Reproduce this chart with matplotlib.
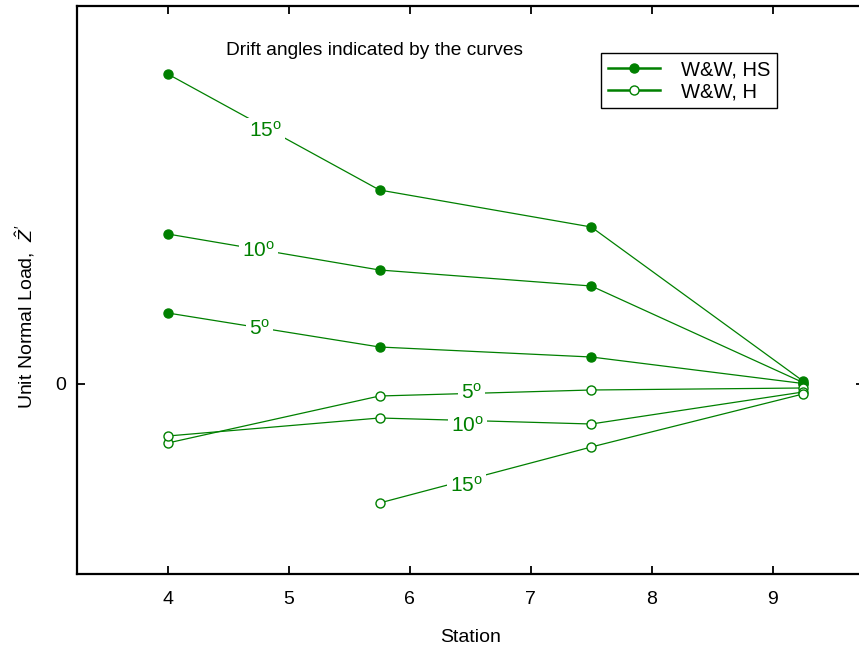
import numpy as np
import matplotlib
matplotlib.use("Agg")
import matplotlib.pyplot as plt

plt.rcParams['font.family'] = ['Liberation Sans', 'DejaVu Sans']
plt.rcParams['mathtext.fontset'] = 'custom'
plt.rcParams['mathtext.rm'] = 'Liberation Sans'
plt.rcParams['mathtext.it'] = 'Liberation Sans:italic'

# stations along the hull
station = [4.0, 5.75, 7.5, 9.25]

# unit normal load, hull + skeg (filled) and hull alone (open)
hs_15 = [3.10, 1.94, 1.57, 0.030]
hs_10 = [1.50, 1.14, 0.98, 0.015]
hs_5 = [0.71, 0.37, 0.27, 0.005]
h_5 = [-0.59, -0.12, -0.06, -0.04]
h_10 = [-0.52, -0.34, -0.40, -0.08]
h_15 = [np.nan, -1.19, -0.63, -0.10]

# drift angle label spots (station, load)
lab_hs = {15: (4.81, 2.53), 10: (4.75, 1.33), 5: (4.76, 0.55)}
lab_h = {5: (6.51, -0.09), 10: (6.48, -0.42), 15: (6.47, -1.02)}

green = '#008000'

fig = plt.figure(figsize=(8.59, 6.51), dpi=100)
ax = fig.add_axes([77 / 859, 1 - 574 / 651, 786.5 / 859, 568 / 651])

kw = dict(color=green, lw=0.9, marker='o', ms=6.5, mew=1.0)
ax.plot(station, hs_15, mfc=green, label='W&W, HS', **kw)
ax.plot(station, hs_10, mfc=green, **kw)
ax.plot(station, hs_5, mfc=green, **kw)
ax.plot(station, h_5, mfc='white', label='W&W, H', **kw)
ax.plot(station, h_10, mfc='white', **kw)
ax.plot(station, h_15, mfc='white', **kw)

box = dict(boxstyle='square,pad=0.15', fc='white', ec='none')
for ang, (xx, yy) in list(lab_hs.items()) + list(lab_h.items()):
    ax.text(xx, yy, f'{ang}$^{{\\mathrm{{o}}}}$', color=green, fontsize=15,
            ha='center', va='center', bbox=box, zorder=3)

ax.text(0.189, 0.9225, 'Drift angles indicated by the curves',
        transform=ax.transAxes, fontsize=13.8, ha='left', va='center')

ax.set_xlim(3.25, 9.75)
ax.set_ylim(-1.90, 3.78)
ax.set_xticks([4, 5, 6, 7, 8, 9])
ax.set_yticks([0])
ax.tick_params(direction='in', length=6, width=1.3, labelsize=14,
               top=True, right=True)
ax.tick_params(axis='x', pad=12)
ax.tick_params(axis='y', pad=8)
for s in ax.spines.values():
    s.set_linewidth(1.6)

ax.set_xlabel('Station', fontsize=14)
ax.xaxis.set_label_coords(0.501, -0.112)
ax.xaxis.label.set_va('center')
ax.set_ylabel("Unit Normal Load,  $\\hat{Z}'$", fontsize=14)
ax.yaxis.set_label_coords(-0.066, 0.452)
ax.yaxis.label.set_va('center')

leg = ax.legend(loc='upper left', bbox_to_anchor=(601 / 859, 1 - 53 / 651),
                bbox_transform=fig.transFigure, fontsize=14.5, frameon=True,
                fancybox=False, edgecolor='black', framealpha=1,
                borderaxespad=0, handlelength=2.6, handletextpad=1.0,
                borderpad=0.35, labelspacing=0.15)
leg.get_frame().set_linewidth(1.0)
for ln in leg.get_lines():
    ln.set_linewidth(1.8)

fig.savefig('out.png', dpi=100)
